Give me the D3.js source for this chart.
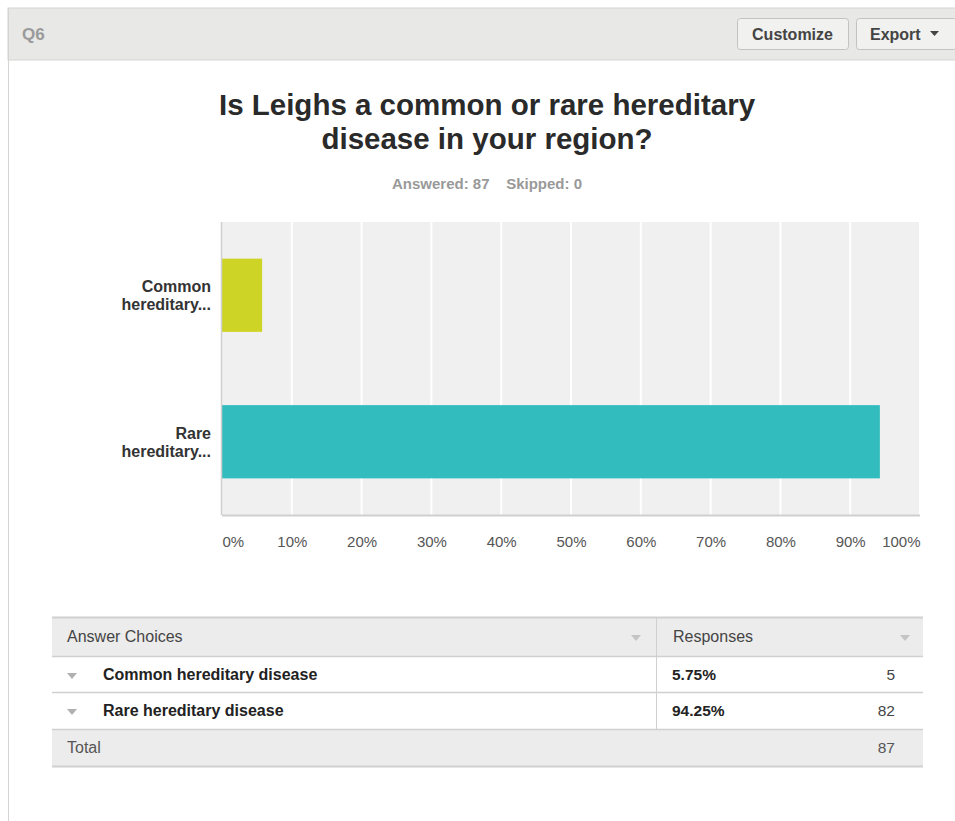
<!DOCTYPE html>
<html>
<head>
<meta charset="utf-8">
<script src="https://cdn.jsdelivr.net/npm/d3@7"></script>
<style>
  html, body { margin: 0; padding: 0; background: #fff; }
  svg { display: block; font-family: "Liberation Sans", Arial, sans-serif; }
</style>
</head>
<body>
<svg id="chart" width="955" height="821"></svg>
<script>
// Survey question data
const categories = ["Common hereditary disease", "Rare hereditary disease"];
const axisLabels = [["Common", "hereditary..."], ["Rare", "hereditary..."]];
const percents = [5.75, 94.25];
const counts = [5, 82];
const barColors = ["#cdd425", "#32bcbd"];
const xTicks = [0, 10, 20, 30, 40, 50, 60, 70, 80, 90, 100];
const answered = 87, skipped = 0, total = 87;

const svg = d3.select("#chart");

// Panel header strip
svg.append("rect").attr("x", 8).attr("y", 8).attr("width", 960).attr("height", 52)
  .attr("fill", "#e8e8e6").attr("stroke", "#d4d4d2");
svg.append("line").attr("x1", 8.5).attr("x2", 8.5).attr("y1", 8).attr("y2", 821)
  .attr("stroke", "#d4d4d2");
svg.append("text").attr("x", 22).attr("y", 40).text("Q6")
  .attr("font-size", 17).attr("font-weight", "bold").attr("fill", "#9a9a9a");

function button(x, w, label, caret) {
  const g = svg.append("g");
  g.append("rect").attr("x", x + 0.5).attr("y", 18.5).attr("width", w).attr("height", 31)
    .attr("rx", 3).attr("fill", "#f1f1ef").attr("stroke", "#c2c2c0");
  g.append("text").attr("x", caret ? x + 14 : x + w / 2).attr("y", 40)
    .attr("text-anchor", caret ? "start" : "middle")
    .attr("font-size", 16).attr("font-weight", "bold").attr("fill", "#444").text(label);
  if (caret) {
    g.append("path").attr("d", `M${x + 74},31 l9,0 l-4.5,5 z`).attr("fill", "#444");
  }
}
button(737, 111, "Customize", false);
button(856, 100, "Export", true);

// Title
const title = svg.append("text").attr("text-anchor", "middle")
  .attr("font-size", 29.5).attr("font-weight", "bold").attr("fill", "#2a2a2a");
title.append("tspan").attr("x", 487).attr("y", 115).text("Is Leighs a common or rare hereditary");
title.append("tspan").attr("x", 487).attr("y", 149).text("disease in your region?");

svg.append("text").attr("x", 487).attr("y", 189).attr("text-anchor", "middle")
  .attr("font-size", 15).attr("font-weight", "bold").attr("fill", "#999")
  .attr("xml:space", "preserve")
  .text(`Answered: ${answered}    Skipped: ${skipped}`);

// Plot area
const plot = { left: 222, right: 920, top: 222, bottom: 515 };
const x = d3.scaleLinear().domain([0, 100]).range([plot.left, plot.right]);
const y = d3.scaleBand().domain(categories).range([plot.top, plot.bottom]).paddingInner(0.5).paddingOuter(0.25);

svg.append("rect").attr("x", plot.left).attr("y", plot.top)
  .attr("width", plot.right - plot.left).attr("height", plot.bottom - plot.top)
  .attr("fill", "#f0f0f0");

svg.append("g").selectAll("line").data(xTicks.slice(1)).join("line")
  .attr("x1", d => x(d)).attr("x2", d => x(d))
  .attr("y1", plot.top).attr("y2", plot.bottom)
  .attr("stroke", "#ffffff").attr("stroke-width", 2);

svg.append("g").selectAll("rect").data(categories).join("rect")
  .attr("x", x(0)).attr("y", d => y(d))
  .attr("width", (d, i) => x(percents[i]) - x(0))
  .attr("height", y.bandwidth())
  .attr("fill", (d, i) => barColors[i]);

// Axis lines
svg.append("line").attr("x1", plot.left).attr("x2", plot.right)
  .attr("y1", plot.bottom + 0.5).attr("y2", plot.bottom + 0.5).attr("stroke", "#cfcfcf").attr("stroke-width", 2);
svg.append("line").attr("x1", plot.left - 0.5).attr("x2", plot.left - 0.5)
  .attr("y1", plot.top).attr("y2", plot.bottom).attr("stroke", "#cfcfcf").attr("stroke-width", 1.5);

// X tick labels
const xAxis = d3.axisBottom(x).tickValues(xTicks).tickFormat(d => d + "%").tickSize(0).tickPadding(18);
const xg = svg.append("g").attr("transform", `translate(0,${plot.bottom + 3})`).call(xAxis);
xg.select(".domain").remove();
xg.selectAll("text").attr("font-size", 15).attr("fill", "#555").attr("font-family", "Liberation Sans, Arial, sans-serif")
  .attr("text-anchor", d => d === 0 ? "start" : d === 100 ? "end" : "middle");

// Y category labels
const yl = svg.append("g");
categories.forEach((c, i) => {
  const cy = y(c) + y.bandwidth() / 2;
  const t = yl.append("text").attr("text-anchor", "end").attr("font-size", 16)
    .attr("font-weight", "bold").attr("fill", "#333");
  t.append("tspan").attr("x", 211).attr("y", cy - 3).text(axisLabels[i][0]);
  t.append("tspan").attr("x", 211).attr("y", cy + 15).text(axisLabels[i][1]);
});

// Response table
const tbl = { left: 52, right: 923, divider: 656 };
const rowsY = [617, 656, 692, 729, 766];
const tg = svg.append("g");
tg.append("rect").attr("x", tbl.left).attr("y", rowsY[0]).attr("width", tbl.right - tbl.left)
  .attr("height", rowsY[1] - rowsY[0]).attr("fill", "#ececec");
tg.append("rect").attr("x", tbl.left).attr("y", rowsY[3]).attr("width", tbl.right - tbl.left)
  .attr("height", rowsY[4] - rowsY[3]).attr("fill", "#ececec");
rowsY.forEach(ry => {
  tg.append("line").attr("x1", tbl.left).attr("x2", tbl.right).attr("y1", ry + 0.5).attr("y2", ry + 0.5)
    .attr("stroke", "#d0d0d0").attr("stroke-width", ry === rowsY[0] || ry === rowsY[4] ? 2 : 1.5);
});
tg.append("line").attr("x1", tbl.divider + 0.5).attr("x2", tbl.divider + 0.5)
  .attr("y1", rowsY[0]).attr("y2", rowsY[3]).attr("stroke", "#d0d0d0");

function caret(cx, cy, col) {
  tg.append("path").attr("d", `M${cx - 5},${cy - 2} l10,0 l-5,6 z`).attr("fill", col);
}
tg.append("text").attr("x", 67).attr("y", 642).attr("font-size", 16).attr("fill", "#444").text("Answer Choices");
caret(636, 637, "#c4c4c4");
tg.append("text").attr("x", 673).attr("y", 642).attr("font-size", 16).attr("fill", "#444").text("Responses");
caret(905, 637, "#c4c4c4");

categories.forEach((c, i) => {
  const by = rowsY[i + 1] + 24;
  caret(72, by - 5, "#b0b0b0");
  tg.append("text").attr("x", 103).attr("y", by).attr("font-size", 16).attr("font-weight", "bold")
    .attr("fill", "#222").text(c);
  tg.append("text").attr("x", 672).attr("y", by).attr("font-size", 15.5).attr("font-weight", "bold")
    .attr("fill", "#222").text(percents[i].toFixed(2) + "%");
  tg.append("text").attr("x", 895).attr("y", by).attr("text-anchor", "end").attr("font-size", 15.5)
    .attr("fill", "#444").text(counts[i]);
});
tg.append("text").attr("x", 67).attr("y", 753).attr("font-size", 16).attr("fill", "#555").text("Total");
tg.append("text").attr("x", 895).attr("y", 753).attr("text-anchor", "end").attr("font-size", 15.5)
  .attr("fill", "#555").text(total);
</script>
</body>
</html>
